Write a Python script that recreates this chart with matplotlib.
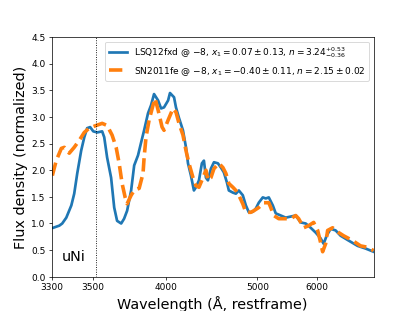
import numpy as np
import matplotlib
matplotlib.use("Agg")
import matplotlib.pyplot as plt

# LSQ12fxd, -8 d
wave_lsq = [3306, 3333, 3346, 3365, 3389, 3403, 3418, 3438, 3454, 3469, 3485, 3502,
            3524, 3552, 3564, 3581, 3605, 3624, 3642, 3668, 3687, 3707, 3734, 3755,
            3782, 3804, 3826, 3855, 3878, 3901, 3933, 3957, 3981, 4015, 4031, 4066,
            4083, 4110, 4146, 4174, 4193, 4221, 4250, 4270, 4300, 4330, 4351, 4372,
            4393, 4425, 4458, 4502, 4536, 4570, 4606, 4629, 4678, 4715, 4752, 4803,
            4843, 4883, 4937, 4978, 5020, 5078, 5122, 5167, 5228, 5274, 5354, 5435,
            5519, 5606, 5695, 5787, 5881, 5978, 6078, 6139, 6202, 6287, 6396, 6508,
            6694, 6914, 7120, 7335]
flux_lsq = [0.92, 0.96, 1.00, 1.11, 1.34, 1.56, 1.94, 2.37, 2.62, 2.79, 2.81, 2.73,
            2.71, 2.73, 2.62, 2.24, 1.86, 1.30, 1.05, 1.00, 1.09, 1.24, 1.62, 2.09,
            2.28, 2.52, 2.75, 3.07, 3.22, 3.43, 3.31, 3.16, 3.18, 3.31, 3.45, 3.37,
            3.18, 2.98, 2.75, 2.43, 2.13, 1.90, 1.62, 1.68, 1.81, 2.13, 2.18, 1.86,
            1.81, 2.03, 2.15, 2.13, 2.05, 1.96, 1.77, 1.62, 1.58, 1.56, 1.62, 1.53,
            1.34, 1.21, 1.22, 1.28, 1.39, 1.49, 1.47, 1.49, 1.34, 1.19, 1.15, 1.11,
            1.13, 1.15, 1.02, 1.00, 0.92, 0.83, 0.72, 0.62, 0.77, 0.90, 0.87, 0.77,
            0.68, 0.58, 0.53, 0.47]

# SN2011fe, -8 d
wave_fe = [3302, 3319, 3342, 3356, 3379, 3403, 3428, 3454, 3480, 3518, 3552, 3581,
           3611, 3636, 3655, 3674, 3694, 3707, 3734, 3755, 3790, 3818, 3826, 3840,
           3863, 3893, 3909, 3933, 3965, 3981, 4015, 4057, 4083, 4110, 4146, 4174,
           4202, 4241, 4270, 4300, 4341, 4372, 4393, 4425, 4458, 4513, 4559, 4594,
           4629, 4678, 4715, 4752, 4803, 4843, 4910, 4951, 5020, 5093, 5167, 5197,
           5243, 5322, 5435, 5519, 5606, 5659, 5750, 5843, 5939, 6018, 6078, 6119,
           6181, 6223, 6330, 6463, 6577, 6791, 6990, 7199, 7335]
flux_fe = [1.90, 2.18, 2.41, 2.43, 2.32, 2.43, 2.56, 2.71, 2.79, 2.84, 2.88, 2.84,
           2.66, 2.43, 2.13, 1.75, 1.49, 1.37, 1.53, 1.62, 1.66, 1.94, 2.24, 2.62,
           2.94, 3.22, 3.35, 3.13, 2.81, 2.75, 2.94, 3.16, 3.09, 2.88, 2.66, 2.37,
           2.13, 1.86, 1.71, 1.68, 1.86, 2.00, 1.81, 1.86, 2.03, 2.13, 2.05, 1.94,
           1.75, 1.68, 1.62, 1.53, 1.37, 1.21, 1.21, 1.24, 1.30, 1.39, 1.39, 1.30,
           1.15, 1.09, 1.09, 1.09, 1.15, 1.09, 0.92, 0.96, 1.02, 0.87, 0.64, 0.47,
           0.62, 0.87, 0.92, 0.83, 0.77, 0.68, 0.58, 0.55, 0.49]

label_lsq = r"LSQ12fxd @ $-8$, $x_1 = 0.07 \pm 0.13$, $n = 3.24^{+0.53}_{-0.36}$"
label_fe = r"SN2011fe @ $-8$, $x_1 = -0.40 \pm 0.11$, $n = 2.15 \pm 0.02$"
xticks = [3300, 3500, 4000, 5000, 6000]
line_uni = 3518


def fwd(x):
    return np.log(np.maximum(np.asarray(x, dtype=float) - 2550.0, 1e-3))


def inv(y):
    return np.exp(y) + 2550.0


fig = plt.figure(figsize=(6.4, 4.8), dpi=64.85)
ax = fig.add_subplot(111)
ax.plot(wave_lsq, flux_lsq, color="C0", lw=3, label=label_lsq)
ax.plot(wave_fe, flux_fe, color="C1", lw=4, ls="--", label=label_fe)
ax.axvline(line_uni, color="k", ls=":", lw=1)
ax.text(3345, 0.3, "uNi", fontsize=16)
ax.set_xscale("function", functions=(fwd, inv))
ax.set_xlim(3300, 7335)
ax.set_ylim(0, 4.5)
ax.set_xticks(xticks)
ax.set_xticklabels([str(t) for t in xticks])
ax.set_yticks(np.arange(0, 4.51, 0.5))
ax.set_xlabel(u"Wavelength (\u00c5, restframe)", fontsize=16)
ax.set_ylabel("Flux density (normalized)", fontsize=16)
ax.legend(loc="upper right")
fig.savefig("out.png", dpi=64.85)
